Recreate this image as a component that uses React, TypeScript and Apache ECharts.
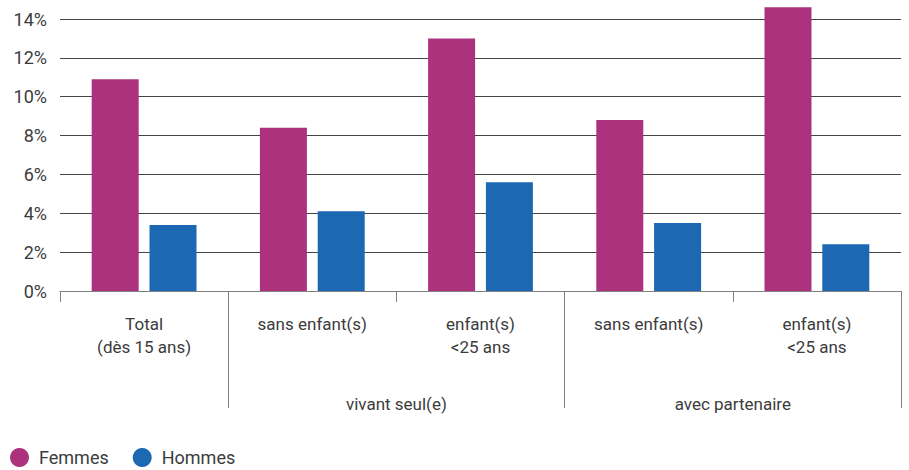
import React, { useEffect, useRef } from "react";
import * as echarts from "echarts";

// Categories along the lower axis and the groups that span them
const categories = [
  "Total\n(dès 15 ans)",
  "sans enfant(s)",
  "enfant(s)\n<25 ans",
  "sans enfant(s)",
  "enfant(s)\n<25 ans",
];
// Group labels sit on the category boundaries (6 boundary points)
const groupLabels = ["", "", "vivant seul(e)", "", "avec partenaire", ""];
const groupSeparators = [1, 3, 5];

const femmes = [10.9, 8.4, 13.0, 8.8, 14.6];
const hommes = [3.4, 4.1, 5.6, 3.5, 2.4];

const FONT = "Roboto, 'Noto Sans', sans-serif";
const TEXT = "#3c3c3c";

export default function App() {
  const ref = useRef<HTMLDivElement>(null);

  useEffect(() => {
    document.body.style.margin = "0";
    if (!ref.current) return;
    const chart = echarts.init(ref.current, null, { renderer: "svg" });
    chart.setOption({
      animation: false,
      textStyle: { fontFamily: FONT },
      grid: { left: 60, right: 8, top: 19, bottom: 179, containLabel: false },
      legend: {
        left: 10,
        top: 448,
        padding: 0,
        icon: "circle",
        itemWidth: 19,
        itemHeight: 19,
        itemGap: 24,
        textStyle: {
          color: TEXT,
          fontSize: 18,
          fontFamily: FONT,
          padding: [0, 0, 0, 5],
        },
        data: ["Femmes", "Hommes"],
      },
      xAxis: [
        {
          type: "category",
          data: categories,
          position: "bottom",
          axisLine: { show: true, lineStyle: { color: "#808080", width: 1 } },
          axisTick: {
            show: true,
            interval: 0,
            length: 11,
            lineStyle: { color: "#808080" },
          },
          axisLabel: {
            interval: 0,
            margin: 21,
            color: TEXT,
            fontSize: 17,
            lineHeight: 23,
            fontFamily: FONT,
          },
          splitLine: { show: false },
        },
        {
          type: "category",
          data: groupLabels,
          boundaryGap: false,
          position: "bottom",
          axisLine: { show: false },
          axisTick: {
            show: true,
            interval: (i: number) => groupSeparators.includes(i),
            length: 117,
            lineStyle: { color: "#808080" },
          },
          axisLabel: {
            interval: 0,
            margin: 101,
            color: TEXT,
            fontSize: 17,
            lineHeight: 23,
            fontFamily: FONT,
          },
          splitLine: { show: false },
        },
      ],
      yAxis: {
        type: "value",
        min: 0,
        max: 14,
        interval: 2,
        axisLine: { show: false },
        axisTick: { show: false },
        axisLabel: {
          formatter: "{value}%",
          margin: 13,
          color: TEXT,
          fontSize: 18,
          fontFamily: FONT,
        },
        splitLine: { lineStyle: { color: "#444", width: 1 } },
      },
      series: [
        {
          name: "Femmes",
          type: "bar",
          data: femmes,
          barWidth: 47,
          barGap: "23%",
          clip: false,
          itemStyle: { color: "#ad327e" },
        },
        {
          name: "Hommes",
          type: "bar",
          data: hommes,
          barWidth: 47,
          barGap: "23%",
          clip: false,
          itemStyle: { color: "#1c68b3" },
        },
      ],
    });
    return () => chart.dispose();
  }, []);

  return <div ref={ref} style={{ width: 909, height: 470 }} />;
}
